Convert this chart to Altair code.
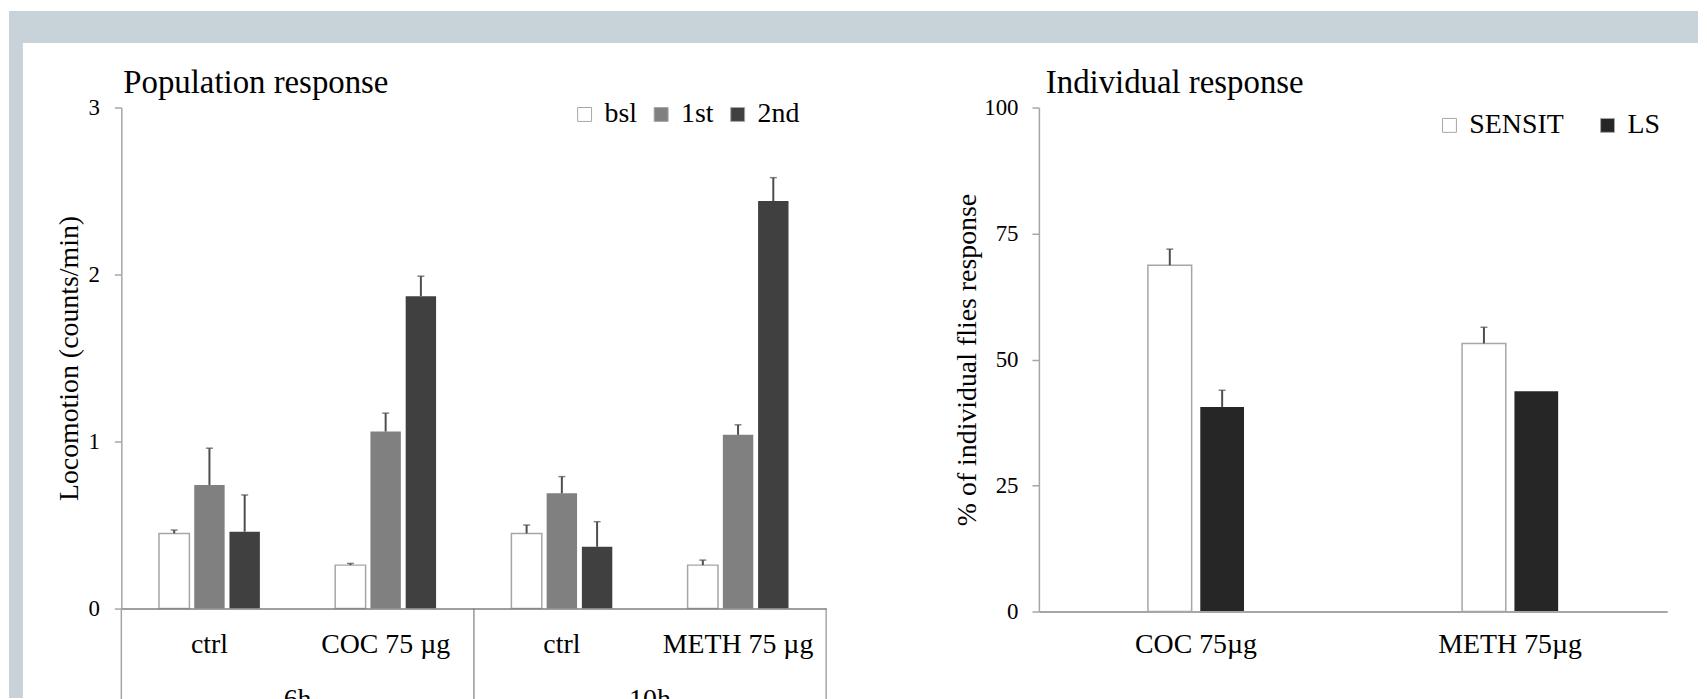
import altair as alt
import pandas as pd

FONT = "Liberation Serif"

# ---------------- data: population response ----------------
pop_groups = ["ctrl", "COC 75 µg", "ctrl", "METH 75 µg"]
pop_periods = ["6h", "6h", "10h", "10h"]
period_names = ["6h", "10h"]
pop_series = ["bsl", "1st", "2nd"]
bsl_vals = [0.45, 0.26, 0.45, 0.26]
bsl_err = [0.02, 0.01, 0.05, 0.03]
first_vals = [0.74, 1.06, 0.69, 1.04]
first_err = [0.22, 0.11, 0.10, 0.06]
second_vals = [0.46, 1.87, 0.37, 2.44]
second_err = [0.22, 0.12, 0.15, 0.14]
pop_colors = ["#ffffff", "#808080", "#404040"]
pop_title = ["Population response"]

# ---------------- data: individual response ----------------
ind_groups = ["COC 75µg", "METH 75µg"]
ind_series = ["SENSIT", "LS"]
sensit_vals = [68.7, 53.2]
sensit_err = [3.2, 3.2]
ls_vals = [40.6, 43.7]
ls_err = [3.3, 0.0]
ind_colors = ["#ffffff", "#262626"]
ind_title = ["Individual response"]

# ---------------- tables ----------------
keys = [f"{p}|{g}" for p, g in zip(pop_periods, pop_groups)]
# one band per bar, with empty bands that separate the groups
pop_slots = [f"{k}|{s}" for k in keys for s in ["_a"] + pop_series + ["_b"]]
rows = []
for i, k in enumerate(keys):
    for s, vals, errs in zip(pop_series, [bsl_vals, first_vals, second_vals],
                             [bsl_err, first_err, second_err]):
        rows.append({"slot": f"{k}|{s}", "key": k, "series": s, "value": vals[i],
                     "err": errs[i], "top": vals[i] + errs[i]})
pop_df = pd.DataFrame(rows)

ind_slots = [f"{g}|{s}" for g in ind_groups for s in ["_a", "_b"] + ind_series + ["_c", "_d"]]
rows = []
for i, g in enumerate(ind_groups):
    for s, vals, errs in zip(ind_series, [sensit_vals, ls_vals], [sensit_err, ls_err]):
        rows.append({"slot": f"{g}|{s}", "grp": g, "series": s, "value": vals[i],
                     "err": errs[i], "top": vals[i] + errs[i]})
ind_df = pd.DataFrame(rows)

W1, H1 = 709, 504
W2, H2 = 632, 507
ERR_COLOR = "#4d4d4d"
EDGE = "#a6a6a6"
SLATE = "#c7d2d9"

# ---------------- left panel ----------------
slot_axis1 = alt.Axis(labelExpr="indexof(datum.label, '|1st') > 0 ? split(datum.label, '|')[1] : ''",
                      ticks=False, tickSize=0, domainColor="#7f7f7f", domainWidth=1.5,
                      labelFontSize=28, labelFont=FONT, labelPadding=44,
                      labelBaseline="alphabetic", labelAngle=0, labelOverlap=False,
                      labelBound=False, zindex=1)
xslot1 = alt.X("slot:N", sort=pop_slots, title=None,
               scale=alt.Scale(type="band", domain=pop_slots, paddingInner=0.137,
                               paddingOuter=0.0685),
               axis=slot_axis1)
y1 = alt.Y("value:Q", scale=alt.Scale(domain=[0, 3]),
           axis=alt.Axis(values=[0, 1, 2, 3], format="d", title="Locomotion (counts/min)",
                         tickSize=7, labelPadding=15, labelFontSize=23, titleFontSize=28,
                         titlePadding=5, grid=False, zindex=1))

strip_top = alt.Chart(alt.Data(values=[{"a": 1}])).mark_rect(color=SLATE).encode(
    x=alt.value(-113), x2=alt.value(1586), y=alt.value(-97), y2=alt.value(-65))
strip_left = alt.Chart(alt.Data(values=[{"a": 1}])).mark_rect(color=SLATE).encode(
    x=alt.value(-113), x2=alt.value(-99), y=alt.value(-97), y2=alt.value(594))

base1 = alt.Chart(pop_df)
bars1 = base1.mark_bar(stroke=EDGE, strokeWidth=1.5).encode(
    x=xslot1, y=y1,
    color=alt.Color("series:N", sort=pop_series,
                    scale=alt.Scale(domain=pop_series, range=pop_colors),
                    legend=alt.Legend(title=None, orient="none", legendX=452, legendY=-7,
                                      direction="horizontal", symbolType="square",
                                      symbolSize=196, symbolStrokeColor=EDGE,
                                      symbolStrokeWidth=1, labelFontSize=28,
                                      labelFont=FONT, columnPadding=10, labelOffset=6,
                                      zindex=1)),
    strokeOpacity=alt.condition("datum.series == 'bsl'", alt.value(1), alt.value(0)),
)
err1 = base1.mark_rule(color=ERR_COLOR, strokeWidth=2).encode(
    x=xslot1, y=alt.Y("value:Q"), y2="top:Q")
cap1 = base1.mark_tick(color=ERR_COLOR, thickness=1.5, size=7).encode(
    x=xslot1, y=alt.Y("top:Q"))
data_layer1 = alt.layer(bars1, err1, cap1)

per_df = pd.DataFrame({"period": period_names})

def xper(bp):
    return alt.X("period:N", sort=period_names, bandPosition=bp, axis=None,
                 scale=alt.Scale(type="band", domain=period_names, paddingInner=0, paddingOuter=0))

sep_a = alt.Chart(per_df).mark_rule(color=EDGE, strokeWidth=1.5).encode(
    x=xper(0), y=alt.value(H1), y2=alt.value(H1 + 100))
sep_b = alt.Chart(per_df).mark_rule(color=EDGE, strokeWidth=1.5).encode(
    x=xper(1), y=alt.value(H1), y2=alt.value(H1 + 100))
per_txt = alt.Chart(per_df).mark_text(fontSize=28, font=FONT, baseline="alphabetic",
                                      color="black").encode(
    x=xper(0.5), y=alt.value(H1 + 100), text="period:N")
period_layer = alt.layer(sep_a, sep_b, per_txt)

title1 = alt.Chart(pd.DataFrame({"t": pop_title})).mark_text(
    fontSize=33, font=FONT, align="left", baseline="alphabetic", color="black").encode(
    x=alt.value(2), y=alt.value(-15), text="t:N")

left = alt.layer(strip_top, strip_left, data_layer1, period_layer, title1).resolve_scale(
    x="independent").properties(width=W1, height=H1)

# ---------------- right panel ----------------
slot_axis2 = alt.Axis(labels=False, ticks=False, tickSize=0, domainColor=EDGE,
                      domainWidth=2, zindex=1)
xslot2 = alt.X("slot:N", sort=ind_slots, title=None,
               scale=alt.Scale(type="band", domain=ind_slots, paddingInner=0.165,
                               paddingOuter=0.0825),
               axis=slot_axis2)
y2 = alt.Y("value:Q", scale=alt.Scale(domain=[0, 100]),
           axis=alt.Axis(values=[0, 25, 50, 75, 100], title="% of individual flies response",
                         tickSize=7, labelPadding=14, labelFontSize=23, titleFontSize=28,
                         titlePadding=2, grid=False, zindex=1))

base2 = alt.Chart(ind_df)
bars2 = base2.mark_bar(stroke=EDGE, strokeWidth=1.5).encode(
    x=xslot2, y=y2,
    color=alt.Color("series:N", sort=ind_series,
                    scale=alt.Scale(domain=ind_series, range=ind_colors),
                    legend=alt.Legend(title=None, orient="none", legendX=399, legendY=4,
                                      direction="horizontal", symbolType="square",
                                      symbolSize=196, symbolStrokeColor=EDGE,
                                      symbolStrokeWidth=1, labelFontSize=28,
                                      labelFont=FONT, columnPadding=30, labelOffset=6,
                                      zindex=1)),
    strokeOpacity=alt.condition("datum.series == 'SENSIT'", alt.value(1), alt.value(0)),
)
err2 = base2.transform_filter("datum.err > 0").mark_rule(
    color=ERR_COLOR, strokeWidth=2).encode(
    x=xslot2, y=alt.Y("value:Q"), y2="top:Q")
cap2 = base2.transform_filter("datum.err > 0").mark_tick(
    color=ERR_COLOR, thickness=1.5, size=7).encode(
    x=xslot2, y=alt.Y("top:Q"))
data_layer2 = alt.layer(bars2, err2, cap2)

grp_df = pd.DataFrame({"grp": ind_groups})
grp_txt = alt.Chart(grp_df).mark_text(fontSize=28, font=FONT, baseline="alphabetic",
                                      color="black").encode(
    x=alt.X("grp:N", sort=ind_groups, bandPosition=0.5, axis=None,
            scale=alt.Scale(type="band", domain=ind_groups, paddingInner=0, paddingOuter=0)),
    y=alt.value(H2 + 42), text="grp:N")

title2 = alt.Chart(pd.DataFrame({"t": ind_title})).mark_text(
    fontSize=33, font=FONT, align="left", baseline="alphabetic", color="black").encode(
    x=alt.value(7), y=alt.value(-15), text="t:N")

right = alt.layer(data_layer2, grp_txt, title2).resolve_scale(x="independent").properties(
    width=W2, height=H2)

chart = alt.hconcat(left, right, spacing=214, bounds="flush").resolve_scale(
    color="independent"
).properties(
    padding={"left": 0, "top": 0, "right": 0, "bottom": 0},
    background="white",
).configure(font=FONT).configure_view(stroke="transparent").configure_axis(
    labelFont=FONT, titleFont=FONT, labelColor="black", titleColor="black",
    titleFontWeight="normal", domainColor=EDGE, tickColor=EDGE, domainWidth=1.5,
    tickWidth=1.5, zindex=1, grid=False,
).configure_legend(labelFont=FONT).configure_text(font=FONT)

chart.save("out.html", embed_options={"renderer": "svg", "actions": False})
